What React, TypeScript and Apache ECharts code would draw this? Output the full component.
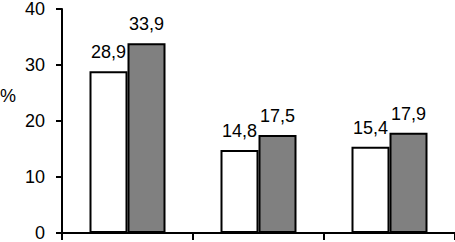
import React, { useEffect, useRef } from "react";
import * as echarts from "echarts";

const categories = ["A", "B", "C"];
const seriesWhite = [28.9, 14.8, 15.4];
const seriesGray = [33.9, 17.5, 17.9];
const yTicks = { min: 0, max: 40, interval: 10 };
const yUnit = "%";

const FONT = "'Liberation Sans', Arial, sans-serif";

export default function App() {
  const ref = useRef<HTMLDivElement>(null);
  useEffect(() => {
    document.body.style.margin = "0";
    if (!ref.current) return;
    const chart = echarts.init(ref.current, null, { renderer: "svg" });
    const label = {
      show: true,
      position: "top" as const,
      distance: 10,
      color: "#000",
      fontSize: 18,
      fontFamily: FONT,
      formatter: (p: any) => Number(p.value).toFixed(1).replace(".", ","),
    };
    chart.setOption({
      animation: false,
      backgroundColor: "#fff",
      grid: { left: 62, top: 8, bottom: 9, width: 395 },
      xAxis: {
        type: "category",
        data: categories,
        boundaryGap: true,
        axisLine: { lineStyle: { color: "#000", width: 2 } },
        axisTick: { show: true, length: 7, inside: false, alignWithLabel: false, lineStyle: { color: "#000", width: 2 } },
        axisLabel: { show: false },
        splitLine: { show: false },
      },
      yAxis: {
        type: "value",
        min: yTicks.min,
        max: yTicks.max,
        interval: yTicks.interval,
        axisLine: { show: true, lineStyle: { color: "#000", width: 2 } },
        axisTick: { show: true, length: 6, lineStyle: { color: "#000", width: 2 } },
        axisLabel: { color: "#000", fontSize: 18, fontFamily: FONT, margin: 17 },
        splitLine: { show: false },
      },
      graphic: [
        {
          type: "text",
          left: 0,
          top: 87,
          style: { text: yUnit, fill: "#000", font: `18px ${FONT}` },
        },
      ],
      series: [
        {
          type: "bar",
          data: seriesWhite,
          barWidth: 38,
          barGap: "0%",
          itemStyle: { color: "#fff", borderColor: "#000", borderWidth: 2 },
          label,
        },
        {
          type: "bar",
          data: seriesGray,
          barWidth: 38,
          barGap: "0%",
          itemStyle: { color: "#808080", borderColor: "#000", borderWidth: 2 },
          label,
        },
      ],
    });
    return () => chart.dispose();
  }, []);
  return <div ref={ref} style={{ width: 455, height: 242 }} />;
}
